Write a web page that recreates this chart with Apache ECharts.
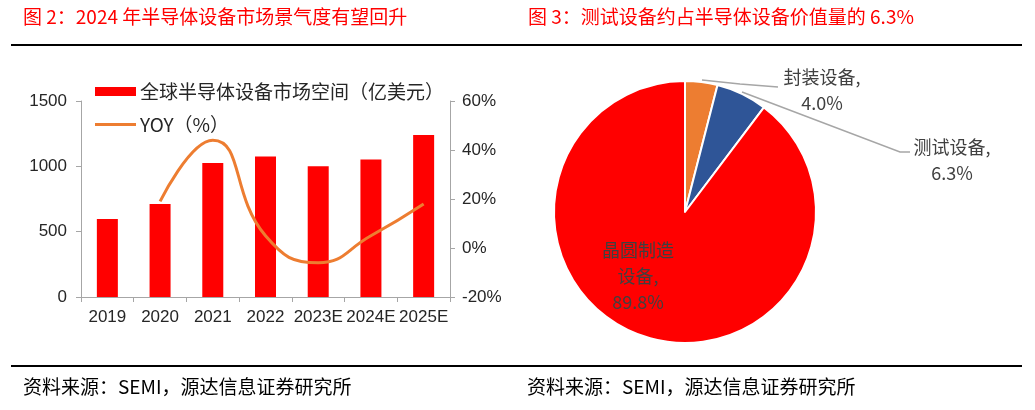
<!DOCTYPE html>
<html>
<head>
<meta charset="utf-8">
<script src="https://cdn.jsdelivr.net/npm/echarts@6/dist/echarts.min.js"></script>
<style>
html,body{margin:0;padding:0;background:#fff;}
#c{width:1035px;height:410px;}
</style>
</head>
<body>
<div id="c"></div>
<script>
// ---- data ----
const categories = ['2019', '2020', '2021', '2022', '2023E', '2024E', '2025E'];
const marketSize = [596, 712, 1026, 1076, 1000, 1053, 1240];
const yoyPct = [null, 19, 44, 5, -6, 5, 18];
const pieNames = ['封装设备', '测试设备', '晶圆制造设备'];
const pieValues = [4.0, 6.3, 89.8];
const barName = '全球半导体设备市场空间（亿美元）';
const lineName = 'YOY（%）';
const title2 = '图 2：2024 年半导体设备市场景气度有望回升';
const title3 = '图 3：测试设备约占半导体设备价值量的 6.3%';
const sourceText = '资料来源：SEMI，源达信息证券研究所';

const FONT = '"Liberation Sans", "Noto Sans CJK SC", sans-serif';
const CJK = '"Noto Sans CJK SC", sans-serif';
const axisGray = '#A6A6A6';
const textDark = '#262626';

const chart = echarts.init(document.getElementById('c'), null, {renderer: 'canvas'});

const pieColors = ['#ED7D31', '#2F5597', '#FF0000'];
const pieData = pieNames.map((n, i) => ({
  name: n,
  value: pieValues[i],
  itemStyle: {color: pieColors[i]}
}));

const option = {
  backgroundColor: '#fff',
  animation: false,
  legend: [
    {
      left: 90, top: 77, itemWidth: 41, itemHeight: 9, itemGap: 4,
      data: [{name: barName, icon: 'rect'}],
      textStyle: {fontFamily: CJK, fontSize: 19, color: textDark, padding: [0, 0, 0, -1]}
    },
    {
      left: 90, top: 110, itemWidth: 41, itemHeight: 3,
      data: [{name: lineName, icon: 'rect', itemStyle: {color: '#ED7D31'}}],
      textStyle: {fontFamily: CJK, fontSize: 19, color: textDark, padding: [0, 0, 0, -1]}
    }
  ],
  grid: {left: 81, right: 585, top: 101, bottom: 113, containLabel: false},
  xAxis: {
    type: 'category',
    data: categories,
    boundaryGap: true,
    axisLine: {lineStyle: {color: axisGray, width: 1}},
    axisTick: {show: true, interval: 0, length: 5, lineStyle: {color: axisGray}},
    axisLabel: {interval: 0, margin: 12, fontFamily: FONT, fontSize: 17, color: textDark}
  },
  yAxis: [
    {
      type: 'value', min: 0, max: 1500, interval: 500,
      axisLine: {show: true, lineStyle: {color: axisGray}},
      axisTick: {show: true, length: 5, lineStyle: {color: axisGray}},
      splitLine: {show: false},
      axisLabel: {margin: 14, fontFamily: FONT, fontSize: 17, color: textDark,
        formatter: function (v) { return String(v); }}
    },
    {
      type: 'value', min: -20, max: 60, interval: 20,
      axisLine: {show: true, lineStyle: {color: axisGray}},
      axisTick: {show: true, length: 5, lineStyle: {color: axisGray}},
      splitLine: {show: false},
      axisLabel: {margin: 12, fontFamily: FONT, fontSize: 17, color: textDark, formatter: '{value}%'}
    }
  ],
  series: [
    {
      name: barName,
      type: 'bar',
      data: marketSize,
      barWidth: 21,
      itemStyle: {color: '#FF0000'},
      yAxisIndex: 0
    },
    {
      name: lineName,
      type: 'line',
      data: yoyPct,
      yAxisIndex: 1,
      smooth: 0.5,
      symbol: 'none',
      lineStyle: {color: '#ED7D31', width: 3},
      itemStyle: {color: '#ED7D31'}
    },
    {
      type: 'pie',
      center: [685, 212],
      radius: 131,
      startAngle: 90,
      clockwise: true,
      data: pieData,
      itemStyle: {borderColor: '#fff', borderWidth: 2},
      label: {
        show: true,
        formatter: function (p) {
          const v = p.value.toFixed(1) + '%';
          if (p.dataIndex === 2) return '晶圆制造\n设备,\n' + v;
          return p.name + ',\n' + v;
        },
        fontFamily: CJK, fontSize: 18, color: '#404040', lineHeight: 26, align: 'center',
        textBorderWidth: 0, textBorderColor: 'transparent'
      },
      labelLine: {show: true, lineStyle: {color: '#A6A6A6', width: 1.5}, length: 10, length2: 10},
      labelLayout: function (p) {
        if (p.dataIndex === 0) {
          return {x: 822, y: 90, align: 'center', verticalAlign: 'middle',
            labelLinePoints: [[702, 80], [740, 84], [778, 87]]};
        }
        if (p.dataIndex === 1) {
          return {x: 952, y: 160, align: 'center', verticalAlign: 'middle',
            labelLinePoints: [[742, 92], [900, 152], [910, 152]]};
        }
        return {x: 638, y: 276, align: 'center', verticalAlign: 'middle'};
      }
    }
  ],
  graphic: [
    {type: 'text', left: 23, top: 7, style: {text: title2, fill: '#FF0000', font: '19px ' + CJK}},
    {type: 'text', left: 528, top: 7, style: {text: title3, fill: '#FF0000', font: '19px ' + CJK}},
    {type: 'line', shape: {x1: 11, y1: 45, x2: 1022, y2: 45}, style: {stroke: '#000', lineWidth: 2}},
    {type: 'line', shape: {x1: 11, y1: 366, x2: 1022, y2: 366}, style: {stroke: '#000', lineWidth: 2}},
    {type: 'text', left: 23, top: 377, style: {text: sourceText, fill: '#000', font: '19px ' + CJK}},
    {type: 'text', left: 527, top: 377, style: {text: sourceText, fill: '#000', font: '19px ' + CJK}}
  ]
};

// the big slice label sits inside the slice, without a label line
option.series[2].data[2].labelLine = {show: false};

chart.setOption(option);
</script>
</body>
</html>
